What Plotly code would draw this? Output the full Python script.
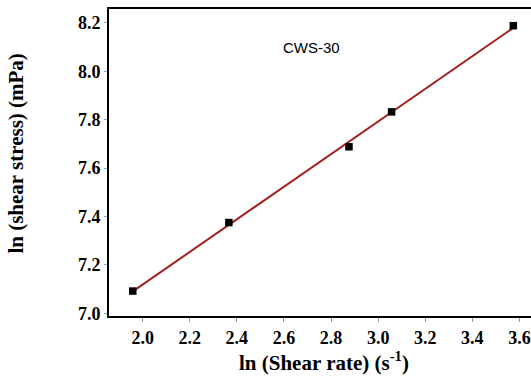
import numpy as np
import plotly.graph_objects as go

# ln(shear rate) vs ln(shear stress) for the CWS-30 slurry
ln_shear_rate = [1.958, 2.366, 2.876, 3.057, 3.574]
ln_shear_stress = [7.092, 7.375, 7.688, 7.832, 8.188]
sample_label = "CWS-30"

x_ticks = [2.0, 2.2, 2.4, 2.6, 2.8, 3.0, 3.2, 3.4, 3.6]
y_ticks = [7.0, 7.2, 7.4, 7.6, 7.8, 8.0, 8.2]

# least-squares power-law fit in log space
slope, intercept = np.polyfit(ln_shear_rate, ln_shear_stress, 1)
fit_x = [min(ln_shear_rate), max(ln_shear_rate)]
fit_y = [slope * v + intercept for v in fit_x]

fig = go.Figure()
fig.add_trace(go.Scatter(
    x=fit_x, y=fit_y, mode="lines",
    line=dict(color="#a31f1f", width=2),
    hoverinfo="skip", showlegend=False,
))
fig.add_trace(go.Scatter(
    x=ln_shear_rate, y=ln_shear_stress, mode="markers",
    marker=dict(symbol="square", size=7.5, color="black"),
    showlegend=False,
))

tick_font = dict(family="Liberation Serif", size=18, color="black")
title_font = dict(family="Liberation Serif", size=21, color="black")

fig.update_xaxes(
    range=[1.857, 3.649], tickvals=x_ticks,
    ticktext=[f"<b>{v:.1f}</b>" for v in x_ticks],
    tickfont=tick_font, ticks="outside", ticklen=4, tickwidth=1,
    tickcolor="#999999", showline=True, linecolor="black", linewidth=2,
    mirror=True, showgrid=False, zeroline=False,
)
fig.update_yaxes(
    range=[6.989, 8.257], tickvals=y_ticks,
    ticktext=[f"<b>{v:.1f}</b>" for v in y_ticks],
    tickfont=tick_font, ticks="outside", ticklen=3, tickwidth=1,
    tickcolor="#8aa6d6", showline=True, linecolor="black", linewidth=2,
    showgrid=False, zeroline=False,
)

fig.add_annotation(
    text="<b>ln (shear stress) (mPa)</b>", xref="paper", yref="paper",
    x=-0.2204, y=0.529, textangle=-90, showarrow=False,
    xanchor="center", yanchor="middle", font=title_font,
)
fig.add_annotation(
    text="<b>ln (Shear rate) (s<sup>-1</sup>)</b>", xref="paper", yref="paper",
    x=0.5095, y=-0.1498, showarrow=False,
    xanchor="center", yanchor="middle", font=title_font,
)
fig.add_annotation(
    text=sample_label, x=2.719, y=8.099, showarrow=False,
    xanchor="center", yanchor="middle",
    font=dict(family="Liberation Sans", size=15, color="black"),
)

fig.update_layout(
    width=531, height=378,
    margin=dict(l=109, r=0, t=9, b=62),
    paper_bgcolor="white", plot_bgcolor="white",
)

fig.write_html("out.html")
